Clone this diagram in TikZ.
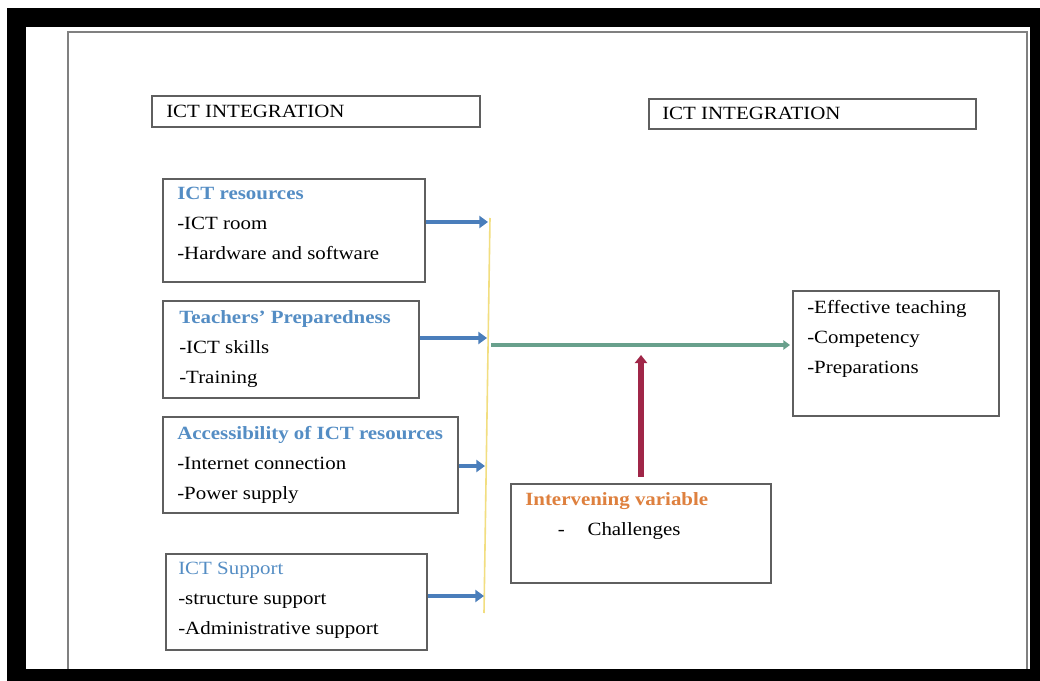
\documentclass[tikz,border=0pt]{standalone}
\usepackage{fontspec}
\setmainfont{Liberation Serif}[FakeStretch=1.12]
\usetikzlibrary{positioning,fit,arrows.meta}

\definecolor{headblue}{RGB}{84,141,196}
\definecolor{headorange}{RGB}{222,128,62}
\definecolor{boxgrey}{RGB}{95,95,95}
\definecolor{feedblue}{RGB}{74,126,187}
\definecolor{flowgreen}{RGB}{104,160,140}
\definecolor{pushred}{RGB}{160,38,72}
\definecolor{hubyellow}{RGB}{242,222,128}

\tikzset{
  box/.style={draw=boxgrey, line width=1pt, inner sep=0pt},
  txt/.style={anchor=north west, align=left, inner sep=0pt,
              font=\fontsize{14}{22.5}\selectfont},
  feed/.style={draw=feedblue, line width=3.2pt,
               -{Triangle[length=6.5pt,width=9pt]}},
}

\begin{document}
\begin{tikzpicture}[x=0.75pt,y=-0.75pt]
  \useasboundingbox (0,0) rectangle (1040,681);
  % frame and page edge
  \fill[white] (0,0) rectangle (1040,681);
  \fill[black] (7,8) rectangle (1040,681);
  \fill[white] (26,27) rectangle (1030,669);
  \draw[gray, line width=1pt] (68,669) -- (68,32) -- (1027,32) -- (1027,669);

  % boxes
  \node[box, fit={(152,96) (480,127)}] (intL) {};
  \node[box, fit={(649,99) (976,129)}] (intR) {};
  \node[box, fit={(163,179) (425,282)}] (res) {};
  \node[box, fit={(163,301) (419,398)}] (prep) {};
  \node[box, fit={(163,417) (458,513)}] (acc) {};
  \node[box, fit={(166,554) (427,650)}] (sup) {};
  \node[box, fit={(511,484) (771,583)}] (interv) {};
  \node[box, fit={(793,291) (999,416)}] (outc) {};

  % box texts
  \node[txt] (intLt) at (166,104.5) {ICT INTEGRATION};
  \node[txt] (intRt) at (662,106.5) {ICT INTEGRATION};
  \node[txt] (rest) at (177,187)
    {\textcolor{headblue}{\textbf{ICT resources}}\\-ICT room\\-Hardware and software};
  \node[txt] (prept) at (179,310)
    {\textcolor{headblue}{\textbf{Teachers’ Preparedness}}\\-ICT skills\\-Training};
  \node[txt] (acct) at (177,426)
    {\textcolor{headblue}{\textbf{Accessibility of ICT resources}}\\-Internet connection\\-Power supply};
  \node[txt] (supt) at (178,561.5)
    {\textcolor{headblue}{ICT Support}\\-structure support\\-Administrative support};
  \node[txt] (intervt) at (525,492)
    {\textcolor{headorange}{\textbf{Intervening variable}}\\\hspace*{24.5pt}-\hspace{17pt}Challenges};
  \node[txt] (outct) at (807,300)
    {-Effective teaching\\-Competency\\-Preparations};

  % collecting line
  \coordinate (htop) at (490,218);
  \coordinate (hbot) at (484,613);
  \draw[hubyellow, line width=1.2pt] (htop) -- (hbot);

  \coordinate (f1) at (488,222);
  \coordinate (f2) at (487,338);
  \coordinate (f3) at (485,466);
  \coordinate (f4) at (484,596);
  \draw[feed] (res.east |- f1) -- (f1);
  \draw[feed] (prep.east |- f2) -- (f2);
  \draw[feed] (acc.east |- f3) -- (f3);
  \draw[feed] (sup.east |- f4) -- (f4);

  % main flow and intervening push
  \coordinate (hub) at (491,345);
  \coordinate (gend) at (790,345);
  \draw[flowgreen, line width=2.6pt, -{Triangle[length=5pt,width=7pt]}] (hub) -- (gend);
  \coordinate (rtop) at (641,355);
  \draw[pushred, line width=4pt, -{Triangle[length=6pt,width=9pt]}]
    ([yshift=5pt]interv.north) -- (rtop);
\end{tikzpicture}
\end{document}
